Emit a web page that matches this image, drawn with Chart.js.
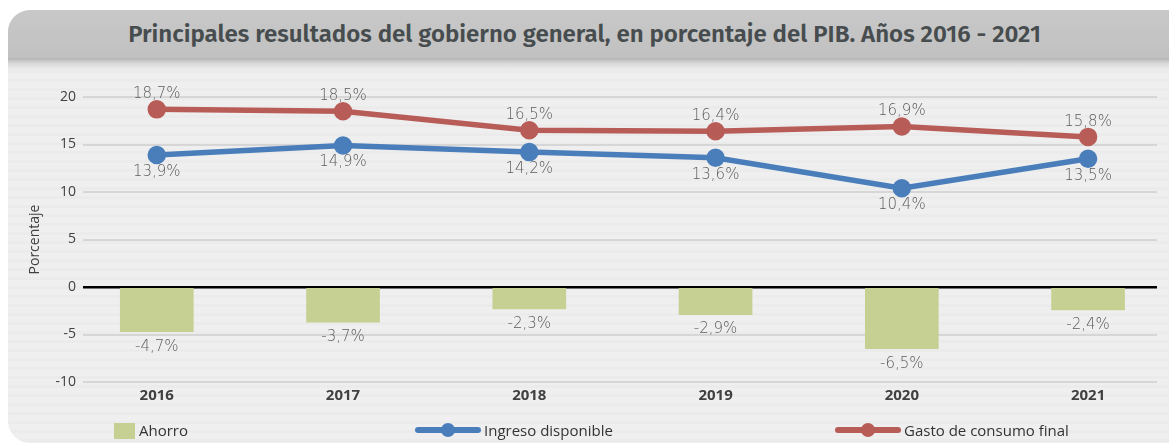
<!DOCTYPE html>
<html>
<head>
<meta charset="utf-8">
<script src="https://cdn.jsdelivr.net/npm/chart.js@4.4.1/dist/chart.umd.min.js"></script>
<style>
  html, body { margin: 0; padding: 0; background: #fff; }
  body { width: 1169px; height: 445px; position: relative; overflow: hidden; font-family: "Open Sans", sans-serif; }
  .card {
    position: absolute; left: 8px; top: 10px; right: 0; bottom: 2px;
    border-radius: 22px 0 0 22px;
    background-color: #efefef;
    background-image: repeating-linear-gradient(180deg, rgba(0,0,0,0) 0px, rgba(0,0,0,0) 6px, rgba(0,0,0,0.015) 6px, rgba(0,0,0,0.015) 9px);
    overflow: hidden;
  }
  .titlebar {
    position: absolute; left: 0; top: 0; right: 0; height: 48px;
    background: linear-gradient(180deg, #c8c8c8 0%, #c1c1c1 100%);
  }
  .shadow {
    position: absolute; left: 0; top: 48px; right: 0; height: 12px;
    background: linear-gradient(180deg, #b3b3b3 0%, #d9d9d9 45%, #ededed 100%);
  }
  #title {
    position: absolute; left: 0; right: 0; top: 10px; text-align: center;
    font-family: "Fira Sans", "Noto Sans", sans-serif; font-weight: 600;
    font-size: 22px; line-height: 48px; color: #474d4f; white-space: nowrap;
  }
  #chartBox { position: absolute; left: 0; top: 0; width: 1169px; height: 445px; }
  .legend { position: absolute; top: 420px; font-size: 15px; color: #333; line-height: 20px; white-space: nowrap; }
  .legend .box { display: inline-block; width: 21px; height: 16px; vertical-align: -3px; margin-right: 4px; }
  .legend .line { display: inline-block; position: relative; width: 66px; height: 6px; border-radius: 3px; vertical-align: 3px; margin-right: 3px; }
  .legend .line i { position: absolute; left: 26px; top: -4px; width: 14px; height: 14px; border-radius: 50%; }
</style>
</head>
<body>
<div class="card">
  <div class="titlebar"></div>
  <div class="shadow"></div>
</div>
<div id="title">Principales resultados del gobierno general, en porcentaje del PIB. Años 2016 - 2021</div>
<div id="chartBox"><canvas id="grafico" width="1169" height="445"></canvas></div>
<div class="legend" style="left:114px"><span class="box" style="background:#c5d092"></span>Ahorro</div>
<div class="legend" style="left:415px"><span class="line" style="background:#4a7ebb"><i style="background:#4a7ebb"></i></span>Ingreso disponible</div>
<div class="legend" style="left:835px"><span class="line" style="background:#b85c58"><i style="background:#b85c58"></i></span>Gasto de consumo final</div>
<script>
const years = [2016, 2017, 2018, 2019, 2020, 2021];
const ahorro = [-4.7, -3.7, -2.3, -2.9, -6.5, -2.4];
const ingresoDisponible = [13.9, 14.9, 14.2, 13.6, 10.4, 13.5];
const gastoConsumo = [18.7, 18.5, 16.5, 16.4, 16.9, 15.8];
const yTicks = [-10, -5, 0, 5, 10, 15, 20];
const xMin = 2015.604, xMax = 2021.37;

// ajustar el titulo al ancho del original
const t = document.getElementById('title');
const range = document.createRange();
range.selectNodeContents(t);
const w = range.getBoundingClientRect().width;
t.style.fontSize = (22 * 913 / w).toFixed(2) + 'px';

const fmt = v => v.toFixed(1).replace('.', ',') + '%';

// etiquetas de valores (arriba para gasto, abajo para el resto)
const valueLabels = {
  id: 'valueLabels',
  afterDatasetsDraw(chart) {
    const ctx = chart.ctx;
    ctx.save();
    ctx.font = '200 15px "DejaVu Sans"';
    ctx.fillStyle = '#5c5c5c';
    ctx.textAlign = 'center';
    ctx.textBaseline = 'middle';
    chart.data.datasets.forEach((ds, i) => {
      const meta = chart.getDatasetMeta(i);
      meta.data.forEach((el, j) => {
        const v = ds.data[j];
        let y;
        if (ds.type === 'bar') y = el.y + 15;
        else if (ds.labelAbove) y = el.y - 15;
        else y = el.y + 17;
        ctx.fillText(fmt(v), el.x, y);
      });
    });
    ctx.restore();
  }
};

new Chart(document.getElementById('grafico'), {
  data: {
    labels: years,
    datasets: [
      {
        type: 'line',
        label: 'Gasto de consumo final',
        data: gastoConsumo,
        borderColor: '#b85c58',
        backgroundColor: '#b85c58',
        borderWidth: 5.5,
        pointRadius: 6.5,
        pointHoverRadius: 6.5,
        tension: 0,
        labelAbove: true,
        order: 1
      },
      {
        type: 'line',
        label: 'Ingreso disponible',
        data: ingresoDisponible,
        borderColor: '#4a7ebb',
        backgroundColor: '#4a7ebb',
        borderWidth: 5.5,
        pointRadius: 6.5,
        pointHoverRadius: 6.5,
        tension: 0,
        order: 2
      },
      {
        type: 'bar',
        label: 'Ahorro',
        data: ahorro,
        backgroundColor: '#c5d092',
        barThickness: 73,
        order: 3
      }
    ]
  },
  options: {
    responsive: false,
    animation: false,
    layout: { padding: { left: 8, right: 8, top: 97, bottom: 33 } },
    plugins: {
      legend: { display: false },
      tooltip: { enabled: false }
    },
    scales: {
      x: {
        type: 'linear',
        offset: false,
        bounds: 'data',
        min: xMin,
        max: xMax,
        afterBuildTicks: s => {
          s.ticks = years.map(v => ({ value: v }));
          s.min = xMin;
          s.max = xMax;
        },
        afterFit: s => { s.height = 30; },
        grid: { display: false, offset: false },
        border: { display: false },
        ticks: {
          padding: -3,
          color: '#404040',
          font: { family: 'Open Sans', size: 15, weight: 'bold' },
          callback: v => String(v)
        }
      },
      y: {
        min: -10,
        max: 20,
        afterBuildTicks: s => { s.ticks = yTicks.map(v => ({ value: v })); },
        afterFit: s => { s.width = 75; },
        border: { display: false },
        grid: {
          drawTicks: false,
          color: c => c.tick && c.tick.value === 0 ? '#000000' : '#d6d6d6',
          lineWidth: c => c.tick && c.tick.value === 0 ? 2.5 : 2
        },
        ticks: {
          padding: 7,
          color: '#404040',
          font: { family: 'Open Sans', size: 14 }
        },
        title: {
          display: true,
          text: 'Porcentaje',
          color: '#404040',
          font: { family: 'Open Sans', size: 14 },
          padding: { top: 19, bottom: 0 }
        }
      }
    }
  },
  plugins: [valueLabels]
});
</script>
</body>
</html>
